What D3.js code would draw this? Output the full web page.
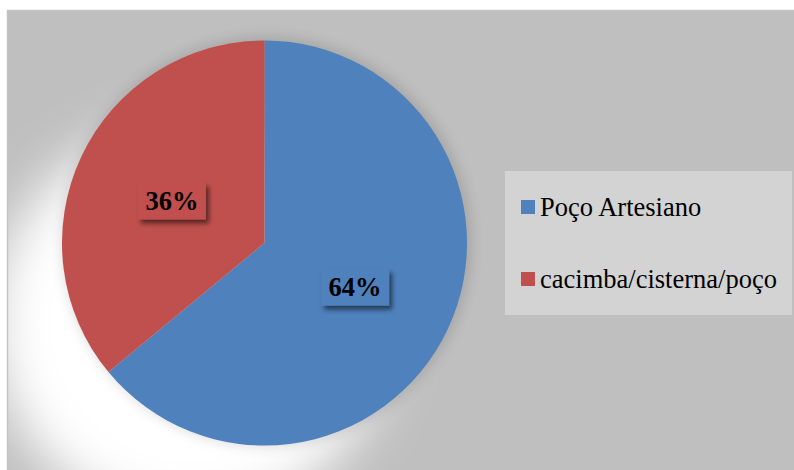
<!DOCTYPE html>
<html>
<head>
<meta charset="utf-8">
<script src="https://cdn.jsdelivr.net/npm/d3@7"></script>
<style>
  html, body { margin: 0; padding: 0; background: #ffffff; }
  svg { display: block; }
</style>
</head>
<body>
<svg id="chart" width="794" height="470"></svg>
<script>
// Water source shares
const categories = ["Poço Artesiano", "cacimba/cisterna/poço"];
const values = [64, 36];
const labels = ["64%", "36%"];
const colors = ["#4f81bd", "#c0504d"];

const svg = d3.select("#chart");
const W = 794, H = 470;
const cx = 264.5, cy = 243, R = 202.5;
const FONT = '"Liberation Serif", "Times New Roman", serif';

const defs = svg.append("defs");

// soft white glow thrown down-left of the pie
defs.append("filter").attr("id", "glow")
  .attr("x", "-50%").attr("y", "-50%").attr("width", "200%").attr("height", "200%")
  .append("feGaussianBlur").attr("stdDeviation", 26);

// thin dark halo hugging the pie edge
defs.append("filter").attr("id", "halo")
  .attr("x", "-20%").attr("y", "-20%").attr("width", "140%").attr("height", "140%")
  .append("feGaussianBlur").attr("stdDeviation", 7);

// label box drop shadow
const ls = defs.append("filter").attr("id", "lblShadow")
  .attr("x", "-30%").attr("y", "-30%").attr("width", "170%").attr("height", "190%");
ls.append("feGaussianBlur").attr("in", "SourceAlpha").attr("stdDeviation", 2.5).attr("result", "b");
ls.append("feOffset").attr("in", "b").attr("dx", 3).attr("dy", 4).attr("result", "o");
ls.append("feComponentTransfer").attr("in", "o").attr("result", "s")
  .append("feFuncA").attr("type", "linear").attr("slope", 0.55);
const lm = ls.append("feMerge");
lm.append("feMergeNode").attr("in", "s");
lm.append("feMergeNode").attr("in", "SourceGraphic");

const clip = defs.append("clipPath").attr("id", "frameClip");
clip.append("rect").attr("x", 7.5).attr("y", 10.5).attr("width", W - 7.5).attr("height", H - 10.5);

// chart area
const frame = svg.append("g").attr("clip-path", "url(#frameClip)");
frame.append("rect")
  .attr("x", 7.5).attr("y", 10.5).attr("width", W - 7).attr("height", H - 10)
  .attr("fill", "#bfbfbf");

frame.append("circle")
  .attr("cx", cx - 75).attr("cy", cy + 80).attr("r", R - 5)
  .attr("fill", "#ffffff")
  .attr("filter", "url(#glow)");

frame.append("circle")
  .attr("cx", cx + 2).attr("cy", cy - 1).attr("r", R + 2)
  .attr("fill", "#000000").attr("opacity", 0.14)
  .attr("filter", "url(#halo)");

svg.append("rect")
  .attr("x", 7.5).attr("y", 10.5).attr("width", W).attr("height", H)
  .attr("fill", "none").attr("stroke", "#c4c4c4").attr("stroke-width", 1.5);

// pie
const pie = d3.pie().sort(null).value(d => d)(values);
const arc = d3.arc().innerRadius(0).outerRadius(R);

const g = svg.append("g").attr("transform", `translate(${cx},${cy})`);
g.selectAll("path.slice")
  .data(pie)
  .join("path")
  .attr("class", "slice")
  .attr("d", arc)
  .attr("fill", (d, i) => colors[i]);

// value labels in shadowed boxes at slice centroids
const lbl = g.selectAll("g.lbl")
  .data(pie)
  .join("g")
  .attr("class", "lbl")
  .attr("transform", d => {
    const c = arc.centroid(d);
    return `translate(${c[0] - 1},${c[1] + 1})`;
  });

lbl.append("rect")
  .attr("x", -34).attr("y", -18.5)
  .attr("width", 68).attr("height", 37)
  .attr("fill", (d, i) => colors[i])
  .attr("filter", "url(#lblShadow)");

lbl.append("text")
  .attr("text-anchor", "middle")
  .attr("y", 9)
  .style("font-family", FONT)
  .style("font-weight", "bold")
  .style("font-size", "26.5px")
  .attr("fill", "#000")
  .text((d, i) => labels[i]);

// legend
const legend = svg.append("g");
legend.append("rect")
  .attr("x", 505).attr("y", 171).attr("width", 287).attr("height", 144)
  .attr("fill", "#d3d3d3");

const rowY = d3.scalePoint().domain(categories).range([215.5, 287.5]);
const item = legend.selectAll("g.item")
  .data(categories)
  .join("g")
  .attr("class", "item")
  .attr("transform", d => `translate(0,${rowY(d)})`);

item.append("rect")
  .attr("x", 521).attr("y", -15.5)
  .attr("width", 14).attr("height", 14)
  .attr("fill", (d, i) => colors[i]);

item.append("text")
  .attr("x", 540)
  .style("font-family", FONT)
  .style("font-size", "26.5px")
  .attr("fill", "#000")
  .text(d => d);
</script>
</body>
</html>
